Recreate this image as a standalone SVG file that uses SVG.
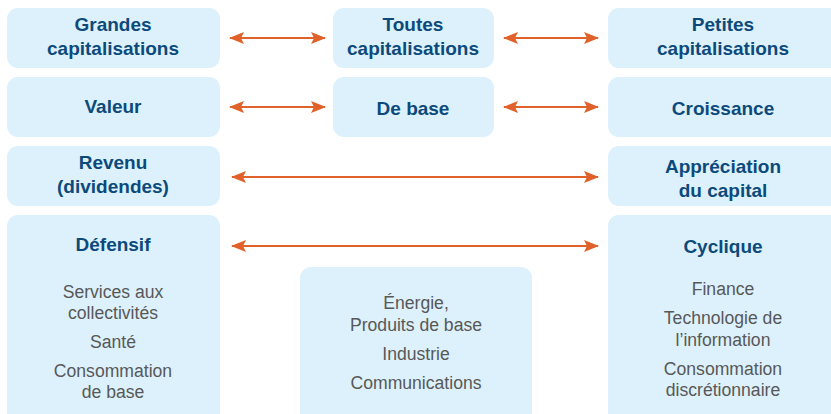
<svg xmlns="http://www.w3.org/2000/svg" width="831" height="414" viewBox="0 0 831 414">
<style>
.box{fill:#dcf1fc}
.t{font-family:"Liberation Sans",Arial,sans-serif;font-weight:bold;font-size:19px;fill:#0c4a7b;text-anchor:middle}
.g{font-family:"Liberation Sans",Arial,sans-serif;font-size:17.6px;fill:#585858;text-anchor:middle}
.c{stroke:#e0622a;stroke-width:2;fill:none;marker-start:url(#ah);marker-end:url(#ah)}
</style>
<defs>
<marker id="ah" markerUnits="userSpaceOnUse" markerWidth="16" markerHeight="12" refX="14" refY="6" orient="auto-start-reverse" viewBox="0 0 16 12">
<path d="M0,0 L15,6 L0,12 L3,6 Z" fill="#e0622a"/>
</marker>
</defs>
<rect width="831" height="414" fill="#ffffff"/>
<g id="grandes"><rect class="box" x="7" y="8" width="213" height="60" rx="11"/><text class="t" x="113" y="31">Grandes</text><text class="t" x="113" y="55">capitalisations</text></g>
<g id="toutes"><rect class="box" x="333" y="8" width="161" height="60" rx="11"/><text class="t" x="413" y="31">Toutes</text><text class="t" x="413" y="55">capitalisations</text></g>
<g id="petites"><rect class="box" x="608" y="8" width="240" height="60" rx="11"/><text class="t" x="723" y="31">Petites</text><text class="t" x="723" y="55">capitalisations</text></g>
<g id="valeur"><rect class="box" x="7" y="77" width="213" height="60" rx="11"/><text class="t" x="113" y="113">Valeur</text></g>
<g id="debase"><rect class="box" x="333" y="77" width="161" height="60" rx="11"/><text class="t" x="413" y="115">De base</text></g>
<g id="croissance"><rect class="box" x="608" y="77" width="240" height="60" rx="11"/><text class="t" x="723" y="115">Croissance</text></g>
<g id="revenu"><rect class="box" x="7" y="146" width="213" height="60" rx="11"/><text class="t" x="113" y="169">Revenu</text><text class="t" x="113" y="193">(dividendes)</text></g>
<g id="appreciation"><rect class="box" x="608" y="146" width="240" height="60" rx="11"/><text class="t" x="723" y="173">Appréciation</text><text class="t" x="723" y="197">du capital</text></g>
<g id="defensif"><rect class="box" x="7" y="215" width="213" height="220" rx="11"/><text class="t" x="113" y="251">Défensif</text>
<text class="g" x="113" y="298">Services aux</text><text class="g" x="113" y="319">collectivités</text><text class="g" x="113" y="348">Santé</text><text class="g" x="113" y="377">Consommation</text><text class="g" x="113" y="398">de base</text></g>
<g id="milieu"><rect class="box" x="300" y="267" width="232" height="170" rx="11"/>
<text class="g" x="416" y="309">Énergie,</text><text class="g" x="416" y="331">Produits de base</text><text class="g" x="416" y="360">Industrie</text><text class="g" x="416" y="389">Communications</text></g>
<g id="cyclique"><rect class="box" x="608" y="215" width="240" height="220" rx="11"/><text class="t" x="723" y="253">Cyclique</text>
<text class="g" x="723" y="295">Finance</text><text class="g" x="723" y="324">Technologie de</text><text class="g" x="723" y="346">l’information</text><text class="g" x="723" y="375">Consommation</text><text class="g" x="723" y="396">discrétionnaire</text></g>
<g id="connectors">
<line class="c" x1="230" y1="38" x2="325" y2="38"/>
<line class="c" x1="504" y1="38" x2="598" y2="38"/>
<line class="c" x1="230" y1="107" x2="325" y2="107"/>
<line class="c" x1="504" y1="107" x2="598" y2="107"/>
<line class="c" x1="232" y1="177" x2="598" y2="177"/>
<line class="c" x1="232" y1="246" x2="598" y2="246"/>
</g>
</svg>
